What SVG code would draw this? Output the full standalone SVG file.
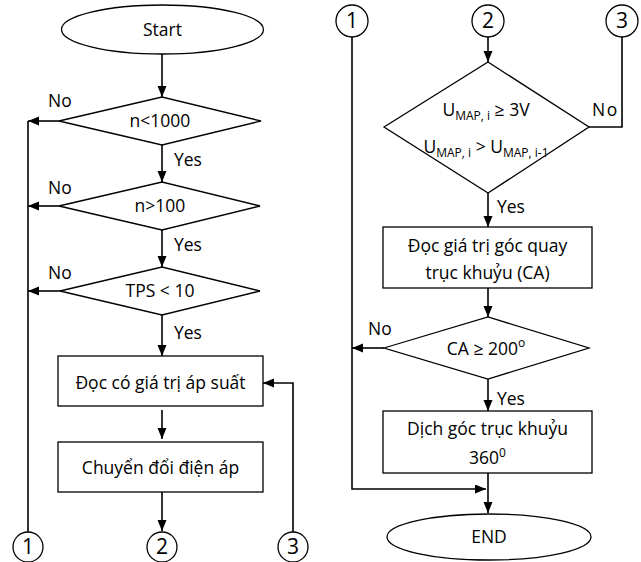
<svg xmlns="http://www.w3.org/2000/svg" width="641" height="562" viewBox="0 0 641 562">
<style>
.s{fill:#fff;stroke:#000;stroke-width:1.3}
.c{fill:none;stroke:#000;stroke-width:1.6}
text{font-family:"Open Sans","Liberation Sans",sans-serif;font-size:17.5px;fill:#000}
.m{text-anchor:middle}
.n{font-size:21px}
.sub{font-size:12px}
</style>
<defs>
<marker id="a" markerUnits="userSpaceOnUse" markerWidth="12" markerHeight="10" refX="11" refY="4.5" orient="auto">
<path d="M0,0 L11,4.5 L0,9 z" fill="#000"/>
</marker>
</defs>
<g id="connectors" class="c">
<path d="M162,54 L162,97" marker-end="url(#a)"/>
<path d="M162,145 L162,182" marker-end="url(#a)"/>
<path d="M162,230 L162,267" marker-end="url(#a)"/>
<path d="M162,315 L162,356" marker-end="url(#a)"/>
<path d="M162,410 L162,439" marker-end="url(#a)"/>
<path d="M162,492 L162,531" marker-end="url(#a)"/>
<path d="M59,121 L28,121" marker-end="url(#a)"/>
<path d="M59,206 L28,206" marker-end="url(#a)"/>
<path d="M60,291 L28,291" marker-end="url(#a)"/>
<path d="M28,121 L28,532"/>
<path d="M293,532 L293,383 L263,383" marker-end="url(#a)"/>
<path d="M488,37 L488,62" marker-end="url(#a)"/>
<path d="M589,127 L622,127 L622,37"/>
<path d="M488,193 L488,227" marker-end="url(#a)"/>
<path d="M488,288 L488,317" marker-end="url(#a)"/>
<path d="M384,348 L352,348" marker-end="url(#a)"/>
<path d="M352,37 L352,489 L486,489" marker-end="url(#a)"/>
<path d="M488,379 L488,411" marker-end="url(#a)"/>
<path d="M488,473 L488,513" marker-end="url(#a)"/>
</g>
<g id="labels">
<text x="48" y="107">No</text>
<text x="48" y="194">No</text>
<text x="48" y="279">No</text>
<text x="174" y="166">Yes</text>
<text x="174" y="251">Yes</text>
<text x="174" y="339">Yes</text>
<text x="592" y="116" letter-spacing="1.5">No</text>
<text x="497" y="213">Yes</text>
<text x="368" y="335">No</text>
<text x="497" y="405">Yes</text>
</g>
<g id="start"><ellipse class="s" cx="162.5" cy="29.5" rx="101" ry="24.5"/><text class="m" x="162.5" y="36">Start</text></g>
<g id="d1"><path class="s" d="M59,121 L162,97 L261,121 L162,145 z"/><text class="m" x="160" y="127">n&lt;1000</text></g>
<g id="d2"><path class="s" d="M59,206 L162,182 L260,206 L162,230 z"/><text class="m" x="160" y="212">n&gt;100</text></g>
<g id="d3"><path class="s" d="M60,291 L162,267 L260,291 L162,315 z"/><text class="m" x="160" y="297">TPS &lt; 10</text></g>
<g id="r1"><rect class="s" x="58" y="356" width="205" height="50"/><text class="m" x="160.5" y="389">Đọc có giá trị áp suất</text></g>
<g id="r2"><rect class="s" x="58" y="442" width="205" height="50"/><text class="m" x="160.5" y="474">Chuyển đổi điện áp</text></g>
<g id="c1a"><circle class="s" cx="28" cy="547" r="15"/><text class="m n" x="28" y="554">1</text></g>
<g id="c2a"><circle class="s" cx="162" cy="547" r="15"/><text class="m n" x="162" y="554">2</text></g>
<g id="c3a"><circle class="s" cx="293" cy="547" r="15"/><text class="m n" x="293" y="554">3</text></g>
<g id="c1b"><circle class="s" cx="352" cy="21" r="16"/><text class="m n" x="352" y="28">1</text></g>
<g id="c2b"><circle class="s" cx="488" cy="21" r="16"/><text class="m n" x="488" y="28">2</text></g>
<g id="c3b"><circle class="s" cx="622" cy="21" r="16"/><text class="m n" x="622" y="28">3</text></g>
<g id="d4"><path class="s" d="M384,127 L488,62 L589,127 L488,193 z"/>
<text class="m" x="486" y="116">U<tspan class="sub" dy="4">MAP, i</tspan><tspan dy="-4"> ≥ 3V</tspan></text>
<text class="m" x="486" y="153">U<tspan class="sub" dy="4">MAP, i</tspan><tspan dy="-4"> &gt; U</tspan><tspan class="sub" dy="4">MAP, i-1</tspan></text>
</g>
<g id="r3"><rect class="s" x="383" y="227" width="209" height="61"/><text class="m" x="487.5" y="252">Đọc giá trị góc quay</text><text class="m" x="487.5" y="279">trục khuỷu (CA)</text></g>
<g id="d5"><path class="s" d="M384,348 L488,317 L589,348 L488,379 z"/><text class="m" x="486" y="355">CA ≥ 200<tspan class="sub" dy="-8">o</tspan></text></g>
<g id="r4"><rect class="s" x="383" y="411" width="209" height="62"/><text class="m" x="487.5" y="435">Dịch góc trục khuỷu</text><text class="m" x="487.5" y="464">360<tspan class="sub" dy="-7">0</tspan></text></g>
<g id="end"><ellipse class="s" cx="489" cy="537" rx="102" ry="23"/><text class="m" x="489" y="543">END</text></g>
</svg>
